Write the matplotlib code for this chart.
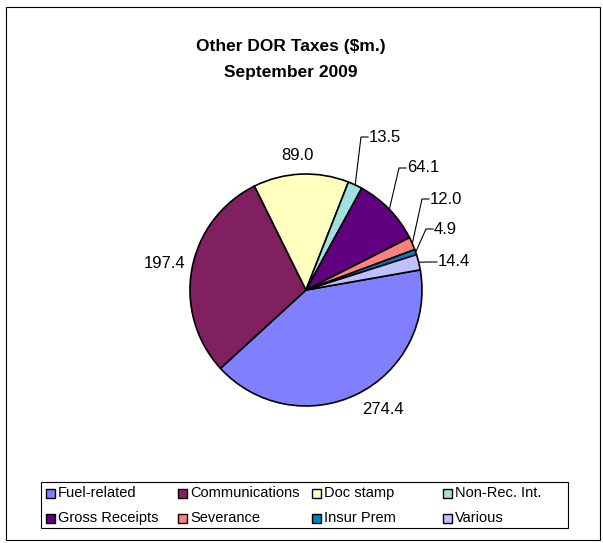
import numpy as np
import matplotlib.pyplot as plt
from matplotlib.patches import Rectangle

plt.rcParams['font.family'] = ['Liberation Sans', 'DejaVu Sans']

# ---- data ----
categories = ["Fuel-related", "Communications", "Doc stamp", "Non-Rec. Int.",
              "Gross Receipts", "Severance", "Insur Prem", "Various"]
values = [274.4, 197.4, 89.0, 13.5, 64.1, 12.0, 4.9, 14.4]
colors = ["#8080FF", "#802060", "#FFFFC0", "#A0E0E0",
          "#600080", "#FF8080", "#0080C0", "#C0C0FF"]

W, H = 603, 543
fig = plt.figure(figsize=(W / 100, H / 100), dpi=100)
ax = fig.add_axes([0, 0, 1, 1])

def py(y):
    # pixel row (from top) -> data y
    return H - y

cx, cy, r = 306, py(290), 116
start = 10

wedges, _ = ax.pie(values, colors=colors, startangle=start, counterclock=False,
                   center=(cx, cy), radius=r,
                   wedgeprops=dict(edgecolor="black", linewidth=1.2))
ax.set_xlim(0, W)
ax.set_ylim(0, H)
ax.set_aspect("equal")
ax.axis("off")

# mid angles of each slice
frac = np.array(values) / sum(values) * 360
ends = start - np.cumsum(frac)
mids = ends + frac / 2

lbl_fs = 12
# big slices: label centre (pixels)
big = {0: (383, 410), 1: (165, 263), 2: (297, 156)}
for i, (tx, ty) in big.items():
    ax.text(tx, py(ty), f"{values[i]:.1f}", ha="center", va="center", fontsize=lbl_fs)

# small slices: leader elbow (pixels), then short tick and text
leader = {3: (361, 137), 4: (399, 168), 5: (422, 199), 6: (426, 229), 7: (430, 262)}
for i, (ex, ey) in leader.items():
    a = np.radians(mids[i])
    x0, y0 = cx + r * np.cos(a), cy + r * np.sin(a)
    ax.plot([x0, ex, ex + 7], [y0, py(ey), py(ey)], color="black", lw=0.8)
    ax.text(ex + 8, py(ey), f"{values[i]:.1f}", ha="left", va="center", fontsize=lbl_fs)

# title
ax.text(291, py(47), "Other DOR Taxes ($m.)", ha="center", va="center",
        fontsize=12.5, fontweight="bold")
ax.text(291, py(72), "September 2009", ha="center", va="center",
        fontsize=12.5, fontweight="bold")

# legend box drawn by hand to match the column layout
ax.add_patch(Rectangle((41, py(528)), 527, 46, facecolor="white",
                       edgecolor="black", lw=0.8))
col_x = [46, 178, 312, 443]
row_y = [493, 518]
for i, (name, c) in enumerate(zip(categories, colors)):
    x = col_x[i % 4]
    y = py(row_y[i // 4])
    ax.add_patch(Rectangle((x, y - 4.5), 9, 9, facecolor=c, edgecolor="black", lw=1.0))
    ax.text(x + 12, y, name, ha="left", va="center", fontsize=10.5)

# outer chart border
ax.add_patch(Rectangle((6, py(540)), 594, 533, fill=False, edgecolor="black", lw=0.8))

fig.savefig("out.png", dpi=100)
